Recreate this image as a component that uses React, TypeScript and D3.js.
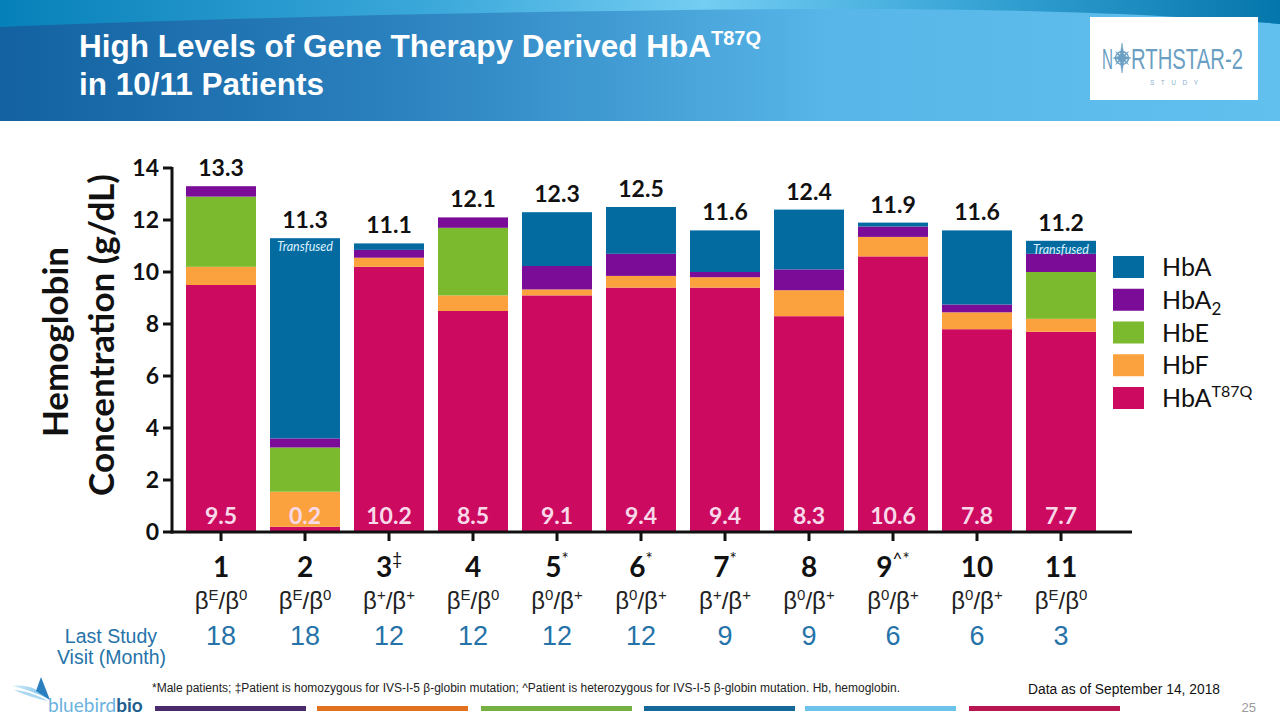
import React from "react";
import * as d3 from "d3";

// ---------- DATA ----------
const patients = ["1", "2", "3", "4", "5", "6", "7", "8", "9", "10", "11"];
const patientMarks = ["", "", "‡", "", "*", "*", "*", "", "^*", "", ""];
const genotypeA = ["E", "E", "+", "E", "0", "0", "+", "0", "0", "0", "E"];
const genotypeB = ["0", "0", "+", "0", "+", "+", "+", "+", "+", "+", "0"];
const lastVisit = [18, 18, 12, 12, 12, 12, 9, 9, 6, 6, 3];
const hbaT87Q = [9.5, 0.2, 10.2, 8.5, 9.1, 9.4, 9.4, 8.3, 10.6, 7.8, 7.7];
const hbF = [0.7, 1.35, 0.35, 0.6, 0.23, 0.45, 0.4, 1.0, 0.75, 0.65, 0.5];
const hbE = [2.7, 1.7, 0, 2.6, 0, 0, 0, 0, 0, 0, 1.8];
const hbA2 = [0.4, 0.35, 0.3, 0.4, 0.9, 0.85, 0.2, 0.8, 0.4, 0.3, 0.7];
const hbA = [0, 7.7, 0.25, 0, 2.07, 1.8, 1.6, 2.3, 0.15, 2.85, 0.5];
const totals = [13.3, 11.3, 11.1, 12.1, 12.3, 12.5, 11.6, 12.4, 11.9, 11.6, 11.2];
const transfused = [false, true, false, false, false, false, false, false, false, false, true];
const yTicks = [0, 2, 4, 6, 8, 10, 12, 14];

const seriesKeys = ["hbaT87Q", "hbF", "hbE", "hbA2", "hbA"];
const seriesColors: Record<string, string> = {
  hbA: "#046ba1",
  hbA2: "#7a0c98",
  hbE: "#7bba2e",
  hbF: "#fba23f",
  hbaT87Q: "#cc0a5f",
};
const legendOrder = ["hbA", "hbA2", "hbE", "hbF", "hbaT87Q"];

const footerBarColors = ["#4b2a6b", "#e2711d", "#76b043", "#14699a", "#6cc3ea", "#b81650"];
const footerBarStarts = [155, 317, 481, 644, 805, 969];

const CAL = "Lato, 'Open Sans', sans-serif";
const ARIAL = "'Liberation Sans', Arial, sans-serif";

export default function App() {
  const rows = patients.map((p, i) => ({
    p,
    hbaT87Q: hbaT87Q[i],
    hbF: hbF[i],
    hbE: hbE[i],
    hbA2: hbA2[i],
    hbA: hbA[i],
  }));
  const stacked = d3.stack<any>().keys(seriesKeys)(rows);

  const x = d3
    .scaleBand<string>()
    .domain(patients)
    .range([179, 1103])
    .paddingInner(1 / 6)
    .paddingOuter(1 / 12);
  const y = d3.scaleLinear().domain([0, 14]).range([532, 168]);
  const bw = x.bandwidth();
  const cx = (p: string) => (x(p) as number) + bw / 2;

  return (
    <svg
      width={1280}
      height={720}
      style={{ position: "absolute", left: 0, top: 0, background: "#fff" }}
    >
      <defs>
        <linearGradient id="hdr" x1="0" x2="1" y1="0" y2="0">
          <stop offset="0" stopColor="#1361a0" />
          <stop offset="0.3" stopColor="#2a80bd" />
          <stop offset="0.65" stopColor="#58b6e8" />
          <stop offset="1" stopColor="#62c0ef" />
        </linearGradient>
        <linearGradient id="hdrTop" x1="0" x2="1" y1="0" y2="0">
          <stop offset="0" stopColor="#0680b9" />
          <stop offset="0.35" stopColor="#3eaadc" />
          <stop offset="0.55" stopColor="#74cdf2" />
          <stop offset="0.75" stopColor="#3aa6d8" />
          <stop offset="1" stopColor="#0576ab" />
        </linearGradient>
        <linearGradient id="bird" x1="0" x2="1" y1="0" y2="0">
          <stop offset="0" stopColor="#d6edf9" />
          <stop offset="1" stopColor="#6bbbe6" />
        </linearGradient>
      </defs>

      {/* Header */}
      <rect x={0} y={0} width={1280} height={121} fill="url(#hdr)" />
      <path
        d="M0,0 L1280,0 L1280,24 C1150,13 1000,8 800,9 C520,11 250,17 0,27 Z"
        fill="url(#hdrTop)"
      />
      <text x={79} y={57} fill="#fff" fontFamily={ARIAL} fontWeight="bold" fontSize={31.5}>
        High Levels of Gene Therapy Derived HbA
        <tspan dy={-12} fontSize={20}>T87Q</tspan>
      </text>
      <text x={79} y={95} fill="#fff" fontFamily={ARIAL} fontWeight="bold" fontSize={31.5}>
        in 10/11 Patients
      </text>

      {/* Northstar logo */}
      <rect x={1090} y={17} width={168} height={83} fill="#fff" />
      <text
        transform="translate(1102,69) scale(1,1.25)"
        fill="#6a9fc3"
        fontFamily={ARIAL}
        fontSize={24}
        textLength={11}
        lengthAdjust="spacingAndGlyphs"
      >
        N
      </text>
      <g transform="translate(1122,58)" fill="#6a9fc3" stroke="#6a9fc3">
        <circle r={6.5} fill="none" strokeWidth={1.4} />
        <path d="M0,-15 L2,-2 L9,0 L2,2 L0,15 L-2,2 L-9,0 L-2,-2 Z" strokeWidth={0.5} />
        <path d="M-6.5,-6.5 L1,-1 L6.5,6.5 L-1,1 Z M6.5,-6.5 L1,1 L-6.5,6.5 L-1,-1 Z" strokeWidth={0.5} />
      </g>
      <text
        transform="translate(1131,69) scale(1,1.25)"
        fill="#6a9fc3"
        fontFamily={ARIAL}
        fontSize={24}
        textLength={112}
        lengthAdjust="spacingAndGlyphs"
      >
        RTHSTAR-2
      </text>
      <text x={1150} y={85} fill="#8ab3cf" fontFamily={ARIAL} fontSize={6.5} textLength={48} lengthAdjust="spacing">STUDY</text>

      {/* Y axis title */}
      <text
        transform="translate(68,342) rotate(-90)"
        textAnchor="middle"
        fontFamily={CAL}
        fontWeight="bold"
        fontSize={35}
        fill="#111"
      >
        Hemoglobin
      </text>
      <text
        transform="translate(114,335) rotate(-90)"
        textAnchor="middle"
        fontFamily={CAL}
        fontWeight="bold"
        fontSize={35}
        fill="#111"
      >
        Concentration (g/dL)
      </text>

      {/* Bars */}
      {stacked.map((s) => (
        <g key={s.key} fill={seriesColors[s.key]}>
          {s.map((d, i) => {
            const h = y(d[0]) - y(d[1]);
            if (h <= 0) return null;
            return (
              <rect key={i} x={x(patients[i])} y={y(d[1])} width={bw} height={h} />
            );
          })}
        </g>
      ))}

      {/* Transfused notes */}
      {patients.map((p, i) =>
        transfused[i] ? (
          <text
            key={"tr" + p}
            x={cx(p)}
            y={y(totals[i]) + 13}
            textAnchor="middle"
            fontFamily={CAL}
            fontStyle="italic"
            fontSize={12.5}
            fill="#dff2ff"
          >
            Transfused
          </text>
        ) : null
      )}

      {/* Total labels */}
      {patients.map((p, i) => (
        <text
          key={"tot" + p}
          x={cx(p)}
          y={y(totals[i]) - 10}
          textAnchor="middle"
          fontFamily={CAL}
          fontWeight="bold"
          fontSize={23}
          fill="#111"
        >
          {totals[i].toFixed(1)}
        </text>
      ))}

      {/* HbA T87Q labels */}
      {patients.map((p, i) => (
        <text
          key={"bot" + p}
          x={cx(p)}
          y={524}
          textAnchor="middle"
          fontFamily={CAL}
          fontWeight="bold"
          fontSize={23}
          fill="#f8d9ea"
        >
          {hbaT87Q[i].toFixed(1)}
        </text>
      ))}

      {/* Axes */}
      <line x1={172} x2={172} y1={y(14) - 1} y2={y(0) + 1.5} stroke="#111" strokeWidth={3} />
      <line x1={170.5} x2={1132} y1={y(0)} y2={y(0)} stroke="#111" strokeWidth={3} />
      {yTicks.map((t) => (
        <g key={"yt" + t}>
          <line x1={163} x2={172} y1={y(t)} y2={y(t)} stroke="#111" strokeWidth={3} />
          <text
            x={159}
            y={y(t)}
            dy="0.36em"
            textAnchor="end"
            fontFamily={CAL}
            fontWeight="bold"
            fontSize={23}
            fill="#111"
          >
            {t}
          </text>
        </g>
      ))}
      {patients.map((p) => (
        <line key={"xt" + p} x1={cx(p)} x2={cx(p)} y1={y(0)} y2={y(0) + 9} stroke="#111" strokeWidth={3} />
      ))}

      {/* X labels */}
      {patients.map((p, i) => (
        <g key={"xl" + p}>
          <text
            x={cx(p)}
            y={577}
            textAnchor="middle"
            fontFamily={CAL}
            fontWeight="bold"
            fontSize={28}
            fill="#111"
          >
            {p}
            {patientMarks[i] ? (
              <tspan dy={-12} fontSize={17} fontWeight="normal">
                {patientMarks[i]}
              </tspan>
            ) : null}
          </text>
          <text
            x={cx(p)}
            y={609}
            textAnchor="middle"
            fontFamily={ARIAL}
            fontSize={24}
            fill="#222"
          >
            β<tspan dy={-9} fontSize={15}>{genotypeA[i]}</tspan>
            <tspan dy={9}>/β</tspan>
            <tspan dy={-9} fontSize={15}>{genotypeB[i]}</tspan>
          </text>
          <text
            x={cx(p)}
            y={645}
            textAnchor="middle"
            fontFamily={ARIAL}
            fontSize={27}
            fill="#2673a9"
          >
            {lastVisit[i]}
          </text>
        </g>
      ))}
      <text x={157} y={643} textAnchor="end" fontFamily={ARIAL} fontSize={19.5} fill="#2673a9">
        Last Study
      </text>
      <text x={166} y={664} textAnchor="end" fontFamily={ARIAL} fontSize={19.5} fill="#2673a9">
        Visit (Month)
      </text>

      {/* Legend */}
      {legendOrder.map((k, i) => {
        const top = 256 + i * 32.75;
        return (
          <g key={"lg" + k}>
            <rect x={1113} y={top} width={31} height={22} fill={seriesColors[k]} />
            <text x={1162} y={top + 20} fontFamily={CAL} fontSize={25} fill="#111">
              {k === "hbA" && "HbA"}
              {k === "hbA2" && (
                <>
                  HbA<tspan dy={6} fontSize={17}>2</tspan>
                </>
              )}
              {k === "hbE" && "HbE"}
              {k === "hbF" && "HbF"}
              {k === "hbaT87Q" && (
                <>
                  HbA<tspan dy={-10} fontSize={16}>T87Q</tspan>
                </>
              )}
            </text>
          </g>
        );
      })}

      {/* Footer */}
      <text
        x={152}
        y={692}
        fontFamily={ARIAL}
        fontSize={12}
        fill="#222"
        textLength={748}
        lengthAdjust="spacingAndGlyphs"
      >
        *Male patients; ‡Patient is homozygous for IVS-I-5  β-globin mutation; ^Patient is heterozygous for IVS-I-5  β-globin mutation. Hb, hemoglobin.
      </text>
      <text
        x={1028}
        y={694}
        fontFamily={ARIAL}
        fontSize={14}
        fill="#111"
        textLength={192}
        lengthAdjust="spacingAndGlyphs"
      >
        Data as of September 14, 2018
      </text>
      <text x={1256} y={712} textAnchor="end" fontFamily={ARIAL} fontSize={13} fill="#9a9a9a">
        25
      </text>
      {footerBarColors.map((c, i) => (
        <rect key={"fb" + i} x={footerBarStarts[i]} y={706} width={151} height={5} fill={c} />
      ))}

      {/* bluebird bio logo */}
      <path d="M13,686 C26,684 40,689 50,700 C40,694 27,690 13,686 Z" fill="url(#bird)" />
      <path d="M14,690 C26,691 38,695 48,701 C38,699 25,695 14,690 Z" fill="#a9d9f2" />
      <path d="M36,691 L41,677 L50,700 Z" fill="#2a7fbf" />
      <text x={48} y={712} fontFamily={CAL} fontSize={19} fill="#6ab3e0">
        bluebird<tspan fill="#1e5f8e" fontWeight="bold">bio</tspan>
      </text>
    </svg>
  );
}
